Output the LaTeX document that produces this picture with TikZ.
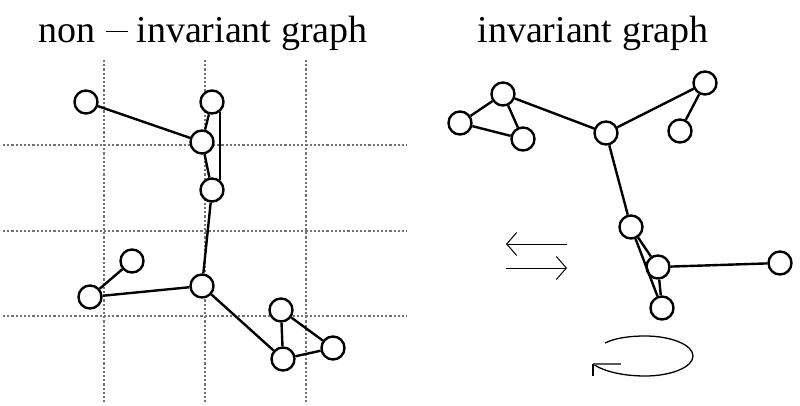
\documentclass[tikz,border=0pt]{standalone}
\usepackage{fontspec}
\setmainfont{Liberation Serif}
\usetikzlibrary{arrows.meta}
\begin{document}
\begin{tikzpicture}[x=1pt,y=-1pt,
  vtx/.style={circle,draw,line width=2.4pt,fill=white,minimum size=23pt,inner sep=0pt},
  edge/.style={line width=2.4pt},
  gridline/.style={line width=2.8pt,color=black!55,dash pattern=on 2.2pt off 2pt},
  title/.style={font=\fontsize{38}{40}\selectfont,anchor=base,inner sep=0pt},
  thinarrow/.style={line width=1pt,-{Straight Barb[length=10pt,width=23pt,line width=1pt]}}]
\useasboundingbox (0,0) rectangle (800,406);
% titles
\node[title] (t1) at (203,43) {non\hspace{11pt}\rule[10.5pt]{22pt}{1.9pt}\hspace{8pt}invariant graph};
\node[title] (t2) at (593,43) {invariant graph};
% grid
\foreach \x in {104,205,306} \draw[gridline] (\x,60) -- (\x,402);
\foreach \y in {145,231,316} \draw[gridline] (3,\y) -- (407,\y);
% left graph
\node[vtx] (A) at (86,102) {};
\node[vtx] (B) at (212,102) {};
\node[vtx] (C) at (202,142) {};
\node[vtx] (D) at (212,190) {};
\node[vtx] (F) at (132,261) {};
\node[vtx] (G) at (90,297) {};
\node[vtx] (H) at (202,286) {};
\node[vtx] (I) at (281,310) {};
\node[vtx] (J) at (283,359) {};
\node[vtx] (K) at (333,348) {};
\draw[edge] (A) -- (C);
\draw[edge] (B) -- (C);
\draw[edge] (C) -- (D);
\draw[edge] (B.-50) -- (D.50);
\draw[edge] (D) -- (H);
\draw[edge] (F) -- (G);
\draw[edge] (G) -- (H);
\draw[edge] (H) -- (J);
\draw[edge] (I) -- (J);
\draw[edge] (I) -- (K);
\draw[edge] (J) -- (K);
% right graph
\node[vtx] (P1) at (503,94) {};
\node[vtx] (P2) at (460,123) {};
\node[vtx] (P3) at (523,139) {};
\node[vtx] (Q) at (606,133) {};
\node[vtx] (R1) at (705,83) {};
\node[vtx] (R2) at (680,131) {};
\node[vtx] (S) at (631,227) {};
\node[vtx] (T) at (658,267) {};
\node[vtx] (U) at (662,308) {};
\node[vtx] (V) at (780,263) {};
\draw[edge] (P1) -- (P2);
\draw[edge] (P1) -- (P3);
\draw[edge] (P2) -- (P3);
\draw[edge] (P1) -- (Q);
\draw[edge] (Q) -- (R1);
\draw[edge] (R1) -- (R2);
\draw[edge] (Q) -- (S);
\draw[edge] (S) -- (T);
\draw[edge] (S) -- (U);
\draw[edge] (T) -- (U);
\draw[edge] (T) -- (V);
% translation arrows
\coordinate (la1) at (567,244);
\coordinate (la2) at (506,244);
\coordinate (ra1) at (506,268);
\coordinate (ra2) at (567,268);
\draw[thinarrow] (la1) -- (la2);
\draw[thinarrow] (ra1) -- (ra2);
% rotation arrow
\coordinate (rs) at (605,343);
\coordinate (rtop) at (645,336);
\coordinate (rright) at (693,356);
\coordinate (rbot) at (645,376);
\coordinate (rtip) at (593,364);
\coordinate (rh1) at (621,364);
\coordinate (rh2) at (593,376);
\draw[line width=1.3pt] (rs) .. controls (615,338) and (630,336) .. (rtop)
  .. controls (671.5,336) and (693,345) .. (rright)
  .. controls (693,367) and (671.5,376) .. (rbot)
  .. controls (622,376) and (603,371) .. (rtip);
\draw[line width=1.3pt,color=black!65] (rtip) -- (rh1);
\draw[line width=2.4pt] (rtip) -- (rh2);
\end{tikzpicture}
\end{document}
